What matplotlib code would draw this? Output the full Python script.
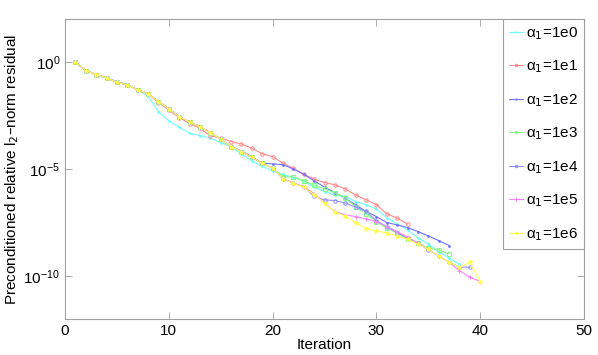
import numpy as np
import matplotlib
matplotlib.use("Agg")
import matplotlib.pyplot as plt

plt.rcParams['font.family'] = ['Liberation Sans', 'DejaVu Sans']

labels = ["1e0", "1e1", "1e2", "1e3", "1e4", "1e5", "1e6"]

# log10 of the preconditioned relative residual
log_res_1e0 = [0, -0.41, -0.59, -0.75, -0.90, -1.07, -1.31, -1.60,
               -2.32, -2.75, -3.05, -3.33, -3.44, -3.56, -3.77, -3.95, -4.31,
               -4.62, -4.88, -5.09, -5.25, -5.40, -5.55, -5.85,
               -6.05, -6.21, -6.28, -6.52, -6.67, -6.87, -7.29, -7.55,
               -7.85, -8.20, -8.50, -8.85, -9.15, -9.45]
log_res_1e1 = [0, -0.41, -0.59, -0.75, -0.95, -1.07, -1.31, -1.50,
               -1.90, -2.25, -2.60, -2.88, -3.10,
               -3.45, -3.55, -3.72, -3.83, -4.03, -4.29, -4.42, -4.73, -4.96, -5.24,
               -5.47, -5.63, -5.74, -5.93, -6.21, -6.44, -6.67, -7.09, -7.29, -7.57]
log_res_1e2 = [0, -0.41, -0.59, -0.75, -0.95, -1.07, -1.31, -1.48,
               -1.85, -2.19, -2.55, -2.81, -3.02, -3.30, -3.61, -3.95, -4.16,
               -4.42, -4.73, -4.76, -4.80, -5.00, -5.25, -5.55, -5.85,
               -6.10, -6.36, -6.67, -6.98, -7.22, -7.50, -7.61, -7.73, -7.92,
               -8.12, -8.34, -8.57]
log_res_1e3 = [0, -0.41, -0.59, -0.75, -0.95, -1.07, -1.31, -1.48,
               -1.85, -2.19, -2.55, -2.81, -3.02, -3.30, -3.61, -3.95, -4.19,
               -4.45, -4.73, -4.96, -5.35, -5.38, -5.55, -5.75, -5.93,
               -6.11, -6.36, -6.75, -7.09, -7.45, -7.76, -7.99, -8.27, -8.46,
               -8.69, -8.77, -8.97]
log_res_1e4 = [0, -0.41, -0.59, -0.75, -0.95, -1.07, -1.31, -1.48,
               -1.85, -2.19, -2.55, -2.81, -3.02, -3.30, -3.61, -3.95, -4.19,
               -4.45, -4.73, -4.96, -5.45, -5.66, -5.82, -6.28, -6.44,
               -6.47, -6.59, -6.78, -6.98, -7.41, -7.69, -7.97, -8.23, -8.46,
               -8.77, -9.05, -9.36, -9.58, -9.58]
log_res_1e5 = [0, -0.41, -0.59, -0.75, -0.95, -1.07, -1.31, -1.48,
               -1.85, -2.19, -2.55, -2.81, -3.02, -3.30, -3.61, -3.95, -4.19,
               -4.45, -4.73, -4.96, -5.45, -5.66, -5.82, -6.15, -6.59,
               -6.98, -7.14, -7.22, -7.33, -7.45, -7.69, -7.92, -8.18, -8.46,
               -8.74, -9.05, -9.36, -9.74, -10.05, -10.25]
log_res_1e6 = [0, -0.41, -0.59, -0.75, -0.95, -1.07, -1.31, -1.48,
               -1.85, -2.19, -2.55, -2.81, -3.02, -3.30, -3.61, -3.95, -4.19,
               -4.45, -4.73, -4.96, -5.45, -5.66, -5.85, -6.20, -6.59,
               -7.00, -7.20, -7.50, -7.79, -7.89, -7.99, -8.12, -8.27, -8.51,
               -8.74, -9.05, -9.36, -9.58, -9.36, -10.25]

series = [log_res_1e0, log_res_1e1, log_res_1e2, log_res_1e3,
          log_res_1e4, log_res_1e5, log_res_1e6]
colors = ["#70ffff", "#ff8c8c", "#7373ff", "#80ff80", "#9090ff", "#ff80ff", "#ffff50"]
markers = [".", "o", ".", "s", "o", "+", "*"]
msizes = [2.5, 2.5, 2.5, 2.2, 2.5, 3.5, 3.5]

fig = plt.figure(figsize=(5.98, 3.55), dpi=100)
ax = fig.add_axes([65/598, 1-319/355, (584-65)/598, (319-19)/355])

for s, lab, c, m, ms in zip(series, labels, colors, markers, msizes):
    it = np.arange(1, len(s) + 1)
    ax.semilogy(it, np.power(10.0, s), color=c, marker=m, markersize=ms,
                markerfacecolor='none' if m in ('o', 's') else c,
                markeredgewidth=0.7, linewidth=0.8,
                label="\u03b1$_1$=" + lab)

ax.set_xlim(0, 50)
ax.set_ylim(1e-12, 1e2)
ax.set_xticks([0, 10, 20, 30, 40, 50])
ax.set_yticks([1e0, 1e-5, 1e-10])
ax.yaxis.set_minor_locator(matplotlib.ticker.NullLocator())
ax.tick_params(axis='both', direction='in', length=5, width=0.6,
               color='#a0a0a0', labelsize=11, top=True, right=True)
for sp in ax.spines.values():
    sp.set_color('#a0a0a0')
    sp.set_linewidth(0.8)

ax.set_xlabel("Iteration", fontsize=11, labelpad=0)
ax.set_ylabel("Preconditioned relative l$_2$\u2013norm residual", fontsize=11, labelpad=2)

leg = ax.legend(loc='upper right', bbox_to_anchor=(1.0, 1.0), borderaxespad=0,
                fontsize=11, handlelength=0.9, handletextpad=0.2,
                labelspacing=1.1, borderpad=0.4, fancybox=False,
                framealpha=1, edgecolor='#a0a0a0', markerscale=0.7)
leg.get_frame().set_linewidth(0.8)

fig.savefig("out.png", dpi=100)
